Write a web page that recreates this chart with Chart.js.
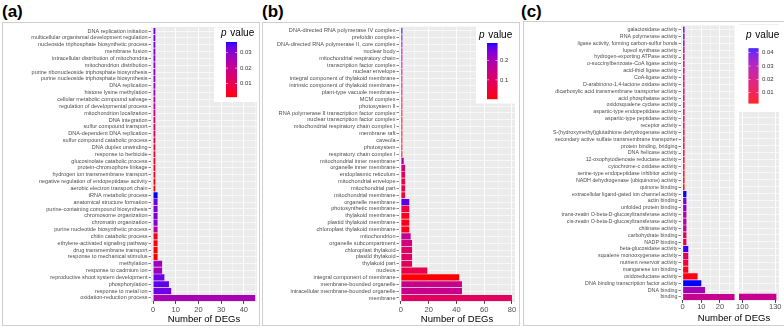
<!DOCTYPE html>
<html>
<head>
<meta charset="utf-8">
<script src="https://cdn.jsdelivr.net/npm/chart.js@4.4.1/dist/chart.umd.min.js"></script>
<style>
  body { margin: 0; width: 784px; height: 326px; background: #fff; position: relative; overflow: hidden; font-family: "Liberation Sans", Arial, sans-serif; }
  .frame { position: absolute; border: 1px solid #cfcfcf; box-sizing: border-box; }
  .tag { position: absolute; font-weight: bold; font-size: 17px; line-height: 17px; }
  canvas { position: absolute; }
  .xt { position: absolute; font-size: 9.5px; color: #000; text-align: center; }
</style>
</head>
<body>
<div class="frame" style="left:2px;top:22px;width:258px;height:304px"></div>
<div class="frame" style="left:262px;top:22px;width:258px;height:304px"></div>
<div class="frame" style="left:523px;top:21px;width:262px;height:305px"></div>
<div class="tag" style="left:2px;top:3px">(a)</div>
<div class="tag" style="left:262px;top:3px">(b)</div>
<div class="tag" style="left:521px;top:3px">(c)</div>
<canvas id="ca" width="255" height="301" style="left:3px;top:23px"></canvas>
<canvas id="cb" width="256" height="301" style="left:263px;top:23px"></canvas>
<canvas id="cc1" width="210" height="302" style="left:525px;top:22px"></canvas>
<canvas id="cc2" width="48" height="302" style="left:736px;top:22px"></canvas>
<div class="xt" style="left:681px;top:312px;width:106px">Number of DEGs</div>
<script>
// (a) biological process
const aTerms = ['DNA replication initiation', 'multicellular organismal development regulation', 'nucleoside triphosphate biosynthetic process',
  'membrane fusion', 'intracellular distribution of mitochondria', 'mitochondrion distribution', 'purine ribonucleoside triphosphate biosynthesis',
  'purine nucleoside triphosphate biosynthesis', 'DNA replication', 'histone lysine methylation', 'cellular metabolic compound salvage',
  'regulation of developmental process', 'mitochondrion localization', 'DNA integration', 'sulfur compound transport', 'DNA-dependent DNA replication',
  'sulfur compound catabolic process', 'DNA duplex unwinding', 'response to herbicide', 'glucosinolate catabolic process', 'protein-chromophore linkage',
  'hydrogen ion transmembrane transport', 'negative regulation of endopeptidase activity', 'aerobic electron transport chain', 'tRNA metabolic process',
  'anatomical structure formation', 'purine-containing compound biosynthesis', 'chromosome organization', 'chromatin organization',
  'purine nucleotide biosynthetic process', 'chitin catabolic process', 'ethylene-activated signaling pathway', 'drug transmembrane transport',
  'response to mechanical stimulus', 'methylation', 'response to cadmium ion', 'reproductive shoot system development', 'phosphorylation',
  'response to metal ion', 'oxidation-reduction process'];
const aCounts = [1, 1, 1, 1, 1, 1, 1, 1, 1, 1, 1, 1, 1, 1, 1, 1, 1, 1, 1, 1, 1, 1, 1, 1,
  2, 2, 2, 2, 2, 2, 2, 2, 2, 2, 4, 4, 5, 7, 8, 45];
const aPval = [0.034, 0.033, 0.033, 0.032, 0.031, 0.031, 0.030, 0.030, 0.029, 0.026, 0.024, 0.022, 0.019, 0.016, 0.013, 0.012,
  0.010, 0.008, 0.006, 0.005, 0.004, 0.003, 0.002, 0.0015, 0.037, 0.033, 0.032, 0.032, 0.031, 0.023, 0.003, 0.002, 0.0015,
  0.0012, 0.027, 0.027, 0.033, 0.034, 0.033, 0.026];

// (b) cellular component
const bTerms = ['DNA-directed RNA polymerase IV complex', 'prefoldin complex', 'DNA-directed RNA polymerase II, core complex', 'nuclear body',
  'mitochondrial respiratory chain', 'transcription factor complex', 'nuclear envelope', 'integral component of thylakoid membrane',
  'intrinsic component of thylakoid membrane', 'plant-type vacuole membrane', 'MCM complex', 'photosystem II',
  'RNA polymerase II transcription factor complex', 'nuclear transcription factor complex', 'mitochondrial respiratory chain complex I',
  'membrane raft', 'caveola', 'photosystem', 'respiratory chain complex I', 'mitochondrial inner membrane', 'organelle inner membrane',
  'endoplasmic reticulum', 'mitochondrial envelope', 'mitochondrial part', 'mitochondrial membrane', 'organelle membrane',
  'photosynthetic membrane', 'thylakoid membrane', 'plastid thylakoid membrane', 'chloroplast thylakoid membrane', 'mitochondrion',
  'organelle subcompartment', 'chloroplast thylakoid', 'plastid thylakoid', 'thylakoid part', 'nucleus', 'integral component of membrane',
  'membrane-bounded organelle', 'intracellular membrane-bounded organelle', 'membrane'];
const bCounts = [1, 1, 1, 1, 1, 1, 1, 1, 1, 1, 1, 1, 1, 1, 1, 1, 1, 1, 1, 2, 3, 3, 3, 3, 3,
  6, 6, 6, 6, 6, 7, 8, 8, 8, 8, 19, 42, 44, 44, 80];
const bPval = [0.29, 0.25, 0.24, 0.20, 0.18, 0.16, 0.15, 0.12, 0.11, 0.09, 0.07, 0.05, 0.04, 0.035, 0.03, 0.02, 0.02, 0.015,
  0.01, 0.20, 0.13, 0.08, 0.07, 0.06, 0.05, 0.27, 0.06, 0.02, 0.018, 0.015, 0.16, 0.13, 0.10, 0.10, 0.09, 0.07, 0.0016,
  0.15, 0.15, 0.09];

// (c) molecular function
const cTerms = ['galactosidase activity', 'RNA polymerase activity', 'ligase activity, forming carbon-sulfur bonds', 'lupeol synthase activity',
  'hydrogen-exporting ATPase activity', 'o-succinylbenzoate-CoA ligase activity', 'acid-thiol ligase activity', 'CoA-ligase activity',
  'D-arabinono-1,4-lactone oxidase activity', 'dicarboxylic acid transmembrane transporter activity', 'acid phosphatase activity',
  'oxidosqualene cyclase activity', 'aspartic-type endopeptidase activity', 'aspartic-type peptidase activity', 'receptor activity',
  'S-(hydroxymethyl)glutathione dehydrogenase activity', 'secondary active sulfate transmembrane transporter', 'protein binding, bridging',
  'DNA helicase activity', '12-oxophytodienoate reductase activity', 'cytochrome-c oxidase activity', 'serine-type endopeptidase inhibitor activity',
  'NADH dehydrogenase (ubiquinone) activity', 'quinone binding', 'extracellular ligand-gated ion channel activity', 'actin binding',
  'unfolded protein binding', 'trans-zeatin O-beta-D-glucosyltransferase activity', 'cis-zeatin O-beta-D-glucosyltransferase activity',
  'chitinase activity', 'carbohydrate binding', 'NADP binding', 'beta-glucosidase activity', 'squalene monooxygenase activity',
  'nutrient reservoir activity', 'manganese ion binding', 'oxidoreductase activity', 'DNA binding transcription factor activity',
  'DNA binding', 'binding'];
const cCounts = [1, 1, 1, 1, 1, 1, 1, 1, 1, 1, 1, 1, 1, 1, 1, 1, 1, 1, 1, 1, 1, 1, 1, 1,
  2, 2, 2, 2, 2, 2, 2, 2, 3, 3, 3, 3, 8, 10, 12, 131];
const cPval = [0.039, 0.037, 0.035, 0.024, 0.023, 0.022, 0.021, 0.020, 0.019, 0.018, 0.017, 0.016, 0.015, 0.014, 0.013, 0.011,
  0.010, 0.008, 0.007, 0.006, 0.005, 0.004, 0.003, 0.0025, 0.0433, 0.037, 0.034, 0.029, 0.028, 0.026, 0.014, 0.012, 0.042,
  0.016, 0.008, 0.005, 0.004, 0.0433, 0.031, 0.024];

// red -> blue colour ramp, interpolated in Lab like ggplot does
function toLab(r, g, b) {
  const lin = c => { c /= 255; return c <= 0.04045 ? c / 12.92 : Math.pow((c + 0.055) / 1.055, 2.4); };
  r = lin(r); g = lin(g); b = lin(b);
  const X = (0.4124 * r + 0.3576 * g + 0.1805 * b) / 0.95047;
  const Y = 0.2126 * r + 0.7152 * g + 0.0722 * b;
  const Z = (0.0193 * r + 0.1192 * g + 0.9505 * b) / 1.08883;
  const f = t => t > 0.008856 ? Math.cbrt(t) : 7.787 * t + 16 / 116;
  return [116 * f(Y) - 16, 500 * (f(X) - f(Y)), 200 * (f(Y) - f(Z))];
}
function fromLab(L, a, b) {
  const fy = (L + 16) / 116, fx = fy + a / 500, fz = fy - b / 200;
  const fi = t => t * t * t > 0.008856 ? t * t * t : (t - 16 / 116) / 7.787;
  const X = fi(fx) * 0.95047, Y = fi(fy), Z = fi(fz) * 1.08883;
  const r = 3.2406 * X - 1.5372 * Y - 0.4986 * Z;
  const g = -0.9689 * X + 1.8758 * Y + 0.0415 * Z;
  const bb = 0.0557 * X - 0.2040 * Y + 1.0570 * Z;
  const gam = c => { c = c <= 0.0031308 ? 12.92 * c : 1.055 * Math.pow(c, 1 / 2.4) - 0.055; return Math.round(Math.max(0, Math.min(1, c)) * 255); };
  return `rgb(${gam(r)},${gam(g)},${gam(bb)})`;
}
const LOW = toLab(255, 0, 0), HIGH = toLab(0, 0, 255);
function ramp(t) {
  t = Math.max(0, Math.min(1, t));
  return fromLab(LOW[0] + (HIGH[0] - LOW[0]) * t, LOW[1] + (HIGH[1] - LOW[1]) * t, LOW[2] + (HIGH[2] - LOW[2]) * t);
}

const panelBg = {
  id: 'panelBg',
  beforeDraw(c) {
    const a = c.chartArea, ctx = c.ctx;
    const e = (a.bottom - a.top) / c.data.labels.length * 0.1;
    ctx.save();
    ctx.fillStyle = '#ebebeb';
    ctx.fillRect(a.left, a.top - e, a.right - a.left, a.bottom - a.top + 2 * e);
    ctx.restore();
  }
};

// p value colour bar
const pLegend = {
  id: 'pLegend',
  afterDatasetsDraw(c, args, o) {
    if (!o || !o.box) return;
    const ctx = c.ctx, ox = o.off[0], oy = o.off[1];
    ctx.save();
    ctx.fillStyle = '#fff';
    ctx.fillRect(o.box[0] - ox, o.box[1] - oy, o.box[2], o.box[3]);
    ctx.fillStyle = '#000';
    ctx.textBaseline = 'middle';
    ctx.textAlign = 'left';
    ctx.font = 'italic 10px "Liberation Sans", Arial';
    ctx.fillText('p', o.title[0] - ox, o.title[1] - oy);
    const w = ctx.measureText('p ').width + 1;
    ctx.font = '10px "Liberation Sans", Arial';
    ctx.fillText('value', o.title[0] - ox + w, o.title[1] - oy);
    const [rx, ry, rw, rh] = o.bar;
    for (let i = 0; i < rh; i++) {
      ctx.fillStyle = ramp(1 - (i + 0.5) / rh);
      ctx.fillRect(rx - ox, ry - oy + i, rw, 1.2);
    }
    ctx.font = '6px "Liberation Sans", Arial';
    o.ticks.forEach(v => {
      const y = ry - oy + rh * (1 - (v - o.lo) / (o.hi - o.lo));
      ctx.fillStyle = 'rgba(255,255,255,0.9)';
      ctx.fillRect(rx - ox, y - 0.3, 2, 0.6);
      ctx.fillRect(rx - ox + rw - 2, y - 0.3, 2, 0.6);
      ctx.fillStyle = '#333';
      ctx.fillText(String(v), o.lx - ox, y);
    });
    ctx.restore();
  }
};

function barChart(id, terms, counts, pv, o) {
  const lo = Math.min(...pv), hi = Math.max(...pv);
  const cols = pv.map(p => ramp((p - lo) / (hi - lo)));
  if (o.legend) Object.assign(o.legend, { lo, hi, off: o.off });
  return new Chart(document.getElementById(id), {
    type: 'bar',
    data: {
      labels: terms,
      datasets: [{ data: counts, backgroundColor: cols, barPercentage: 0.9, categoryPercentage: 1, clip: 0 }]
    },
    options: {
      indexAxis: 'y',
      responsive: false,
      animation: false,
      layout: { padding: o.pad },
      plugins: { legend: { display: false }, tooltip: { enabled: false }, pLegend: o.legend || {} },
      scales: {
        x: {
          type: 'linear', min: o.min, max: o.max,
          afterBuildTicks: s => { s.ticks = o.grid.map(v => ({ value: v })); },
          afterFit: s => { s.height = o.xh; },
          ticks: {
            autoSkip: false, maxRotation: 0, padding: o.tp, color: '#4d4d4d', font: { size: 7.5 },
            callback: v => o.major.includes(v) ? v : ''
          },
          grid: {
            color: '#fff',
            lineWidth: c => o.major.includes(c.tick.value) ? 0.9 : 0.4,
            tickLength: 2.5,
            tickColor: c => o.major.includes(c.tick.value) ? '#333' : 'rgba(0,0,0,0)'
          },
          border: { display: false },
          title: { display: o.title, text: 'Number of DEGs', color: '#000', font: { size: 9.5, lineHeight: 1 }, padding: { top: 0, bottom: 0 } }
        },
        y: {
          afterFit: s => { s.width = o.yw; },
          ticks: { display: o.yLabels, autoSkip: false, color: '#4d4d4d', font: { size: o.fs }, padding: 1 },
          grid: { color: '#fff', lineWidth: 0.6, offset: false, drawTicks: o.yLabels, tickLength: 2.5, tickColor: '#333' },
          border: { display: false }
        }
      }
    },
    plugins: [panelBg, pLegend]
  });
}

Chart.defaults.font.family = '"Liberation Sans", Arial, sans-serif';

barChart('ca', aTerms, aCounts, aPval, {
  off: [3, 23], pad: { left: 0, right: 1, top: 4.6, bottom: 0 }, yw: 148, xh: 22.6, tp: 1.5, fs: 5.5,
  min: -0.9, max: 45.8, grid: [0, 5, 10, 15, 20, 25, 30, 35, 40, 45], major: [0, 10, 20, 30, 40],
  title: true, yLabels: true,
  legend: { box: [214, 27.6, 43, 74.5], title: [221, 33], bar: [226, 42, 11, 55], ticks: [0.01, 0.02, 0.03], lx: 240 }
});

barChart('cb', bTerms, bCounts, bPval, {
  off: [263, 23], pad: { left: 0, right: 4, top: 3.6, bottom: 0 }, yw: 136, xh: 22.6, tp: 1.5, fs: 5.6,
  min: -1.4, max: 82.2, grid: [0, 10, 20, 30, 40, 50, 60, 70, 80], major: [0, 20, 40, 60, 80],
  title: true, yLabels: true,
  legend: { box: [476, 26.6, 39, 77], title: [479, 35], bar: [487, 43, 10.5, 56], ticks: [0.1, 0.2], lx: 500 }
});

barChart('cc1', cTerms, cCounts, cPval, {
  off: [525, 22], pad: { left: 0, right: 0.5, top: 2.9, bottom: 0 }, yw: 156, xh: 23.6, tp: 0, fs: 5.3,
  min: -0.9, max: 27.8, grid: [0, 5, 10, 15, 20, 25], major: [0, 10, 20],
  title: false, yLabels: true
});

barChart('cc2', cTerms, cCounts, cPval, {
  off: [736, 22], pad: { left: 0.5, right: 5, top: 2.9, bottom: 0 }, yw: 0, xh: 23.6, tp: 0, fs: 5.3,
  min: 97, max: 133.4, grid: [100, 115, 130], major: [100, 130],
  title: false, yLabels: false,
  legend: { box: [738, 24.9, 46, 87], title: [746, 35], bar: [748.5, 48.3, 10, 54.4], ticks: [0.01, 0.02, 0.03, 0.04], lx: 762 }
});
</script>
</body>
</html>
